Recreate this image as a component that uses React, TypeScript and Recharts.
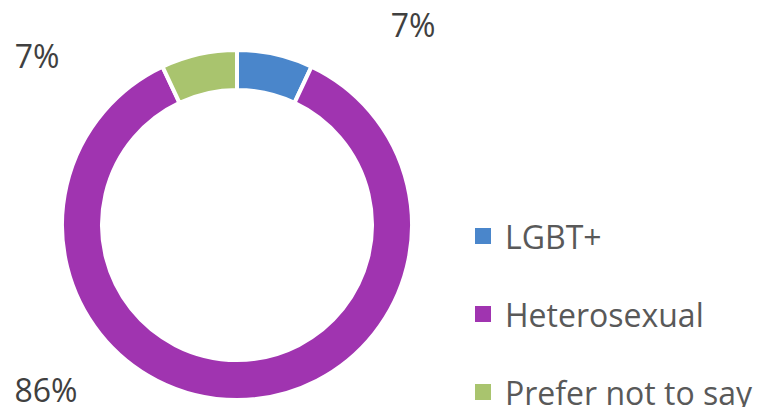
import { PieChart, Pie, Cell, Legend } from "recharts";

const CATEGORIES = ["LGBT+", "Heterosexual", "Prefer not to say"];
const VALUES = [7, 86, 7];
const COLORS = ["#4a86cb", "#a034b0", "#a9c46e"];
// where each percentage label sits (Excel "best fit" placement)
const LABEL_POS: [number, number][] = [
  [413, 24],
  [46, 389],
  [37, 55],
];

const FONT = "'Open Sans', sans-serif";

const data = CATEGORIES.map((name, i) => ({ name, value: VALUES[i] }));
const total = VALUES.reduce((s, v) => s + v, 0);

function renderLabel({ index, value }: { index: number; value: number }) {
  const [x, y] = LABEL_POS[index];
  return (
    <text
      x={x}
      y={y}
      fill="#404040"
      textAnchor="middle"
      dominantBaseline="central"
      fontSize={32}
      fontFamily={FONT}
    >
      {`${Math.round((value / total) * 100)}%`}
    </text>
  );
}

function LegendContent() {
  return (
    <div style={{ fontFamily: FONT }}>
      {data.map((d, idx) => (
        <div
          key={d.name}
          style={{
            display: "flex",
            alignItems: "center",
            height: 78,
            color: "#595959",
            fontSize: 32,
            whiteSpace: "nowrap",
          }}
        >
          <span
            style={{
              display: "inline-block",
              width: 16,
              height: 16,
              marginRight: 14,
              flexShrink: 0,
              backgroundColor: COLORS[idx],
            }}
          />
          <span>{d.name}</span>
        </div>
      ))}
    </div>
  );
}

export default function App() {
  return (
    <div style={{ position: "absolute", left: 0, top: 0, width: 766, height: 407, background: "#fff" }}>
      <PieChart width={766} height={407} margin={{ top: 0, right: 0, bottom: 0, left: 0 }}>
        <Pie
          data={data}
          dataKey="value"
          nameKey="name"
          cx={237}
          cy={225}
          innerRadius={135}
          outerRadius={175}
          startAngle={90}
          endAngle={-270}
          stroke="#fff"
          strokeWidth={4}
          labelLine={false}
          label={renderLabel}
          isAnimationActive={false}
        >
          {data.map((_, idx) => (
            <Cell key={idx} fill={COLORS[idx]} />
          ))}
        </Pie>
        <Legend
          content={<LegendContent />}
          wrapperStyle={{ position: "absolute", left: 475, top: 197, width: 291 }}
        />
      </PieChart>
    </div>
  );
}
